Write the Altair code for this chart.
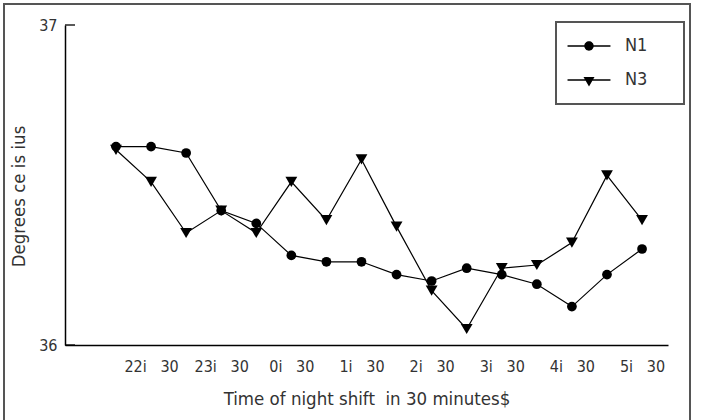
import altair as alt
import pandas as pd

# ---- data ----
slots = list(range(1, 17))  # half-hour slots, 22:00 ... 5:30
n1 = [36.62, 36.62, 36.60, 36.42, 36.38, 36.28, 36.26, 36.26,
      36.22, 36.20, 36.24, 36.22, 36.19, 36.12, 36.22, 36.30]
n3 = [36.61, 36.51, 36.35, 36.42, 36.35, 36.51, 36.39, 36.58,
      36.37, 36.17, 36.05, 36.24, 36.25, 36.32, 36.53, 36.39]
series_names = ["N1", "N3"]
tick_slots = [2, 4, 6, 8, 10, 12, 14, 16]
SP = "\u00a0\u00a0\u00a0"
tick_text = ["22i" + SP + "30", "23i" + SP + "30", "0i" + SP + "30", "1i" + SP + "30",
             "2i" + SP + "30", "3i" + SP + "30", "4i" + SP + "30", "5i" + SP + "30"]
y_ticks = [36, 37]
x_title = "Time of night shift\u00a0 in 30 minutes$"
y_title = "Degrees ce is ius"

FONT = "DejaVu Sans Condensed, Liberation Sans Narrow, DejaVu Sans"

df = pd.DataFrame({
    "slot": slots * 2,
    "temp": n1 + n3,
    "series": [series_names[0]] * len(n1) + [series_names[1]] * len(n3),
})

label_array = ["''"] * 17
for s, t in zip(tick_slots, tick_text):
    label_array[s] = "'" + t + "'"
label_expr = "[" + ",".join(label_array) + "][datum.value]"

x_enc = alt.X("slot:Q",
              scale=alt.Scale(domain=[-0.454, 16.74], nice=False, zero=False),
              axis=alt.Axis(values=tick_slots, labelExpr=label_expr, ticks=False,
                            grid=False, labelPadding=13, title=x_title,
                            titlePadding=15, labelFlush=False))
y_enc = alt.Y("temp:Q",
              scale=alt.Scale(domain=[36, 37], nice=False, zero=False),
              axis=alt.Axis(values=y_ticks, format="d", ticks=False, grid=False,
                            labelPadding=8, title=y_title, titlePadding=10,
                            titleY=171))

base = alt.Chart(df)

lines = base.mark_line(color="black", strokeWidth=1.2).encode(
    x=x_enc, y=y_enc, detail="series:N")

points = base.mark_point(filled=True, color="black", opacity=1).encode(
    x="slot:Q", y="temp:Q",
    shape=alt.Shape("series:N",
                    scale=alt.Scale(domain=series_names, range=["circle", "triangle-down"]),
                    legend=None),
    size=alt.Size("series:N",
                  scale=alt.Scale(domain=series_names, range=[95, 140]),
                  legend=None))

# legend symbols: line with marker, drawn as filled custom paths
line_part = "M-3.2,-0.1L3.2,-0.1L3.2,0.1L-3.2,0.1Z"
circle_path = line_part + "M0.7,0A0.7,0.7 0 1,1 -0.7,0A0.7,0.7 0 1,1 0.7,0Z"
tri_path = line_part + "M-0.82,-0.45L0.82,-0.45L0,0.97Z"
legend_layer = base.transform_filter("false").mark_point(
    filled=True, color="black", opacity=1).encode(
    x="slot:Q", y="temp:Q",
    shape=alt.Shape("series:N",
                    scale=alt.Scale(domain=series_names, range=[circle_path, tri_path]),
                    legend=alt.Legend(
                        title=None, orient="none", legendX=491, legendY=-3,
                        symbolSize=180, symbolOffset=9, labelOffset=27,
                        labelFont=FONT, labelFontSize=18, labelColor="#333",
                        padding=15, rowPadding=16,
                        symbolFillColor="black", symbolStrokeColor="black",
                        symbolStrokeWidth=0, symbolOpacity=1)))

# legend box outline (decoration)
legend_box = alt.Chart(pd.DataFrame({"a": [0]})).mark_rect(
    fill="white", stroke="#555", strokeWidth=2).encode(
    x=alt.value(491), x2=alt.value(619), y=alt.value(-3), y2=alt.value(79))

tick_df = pd.DataFrame({"v": y_ticks})
yticks = alt.Chart(tick_df).mark_rule(color="black", strokeWidth=1.3).encode(
    y=alt.Y("v:Q"), x=alt.value(0), x2=alt.value(10))

frame = alt.Chart(pd.DataFrame({"a": [0]})).mark_rect(
    fill="transparent", stroke="#555", strokeWidth=2).encode(
    x=alt.value(-61), x2=alt.value(625), y=alt.value(-21), y2=alt.value(410))

chart = alt.layer(frame, legend_box, lines, points, legend_layer, yticks).resolve_scale(
    shape="independent", size="independent"
).properties(
    width=603, height=320,
    autosize=alt.AutoSizeParams(type="none"),
    padding={"left": 65, "top": 25, "right": 36, "bottom": 75},
    background="white",
).configure_view(stroke=None).configure_axis(
    domainColor="black", domainWidth=1.5,
    labelFont=FONT, labelFontSize=16, labelColor="#333",
    titleFont=FONT, titleFontSize=18.5, titleColor="#333", titleFontWeight="normal",
)

chart.save("out.html", embed_options={"renderer": "svg", "actions": False})
